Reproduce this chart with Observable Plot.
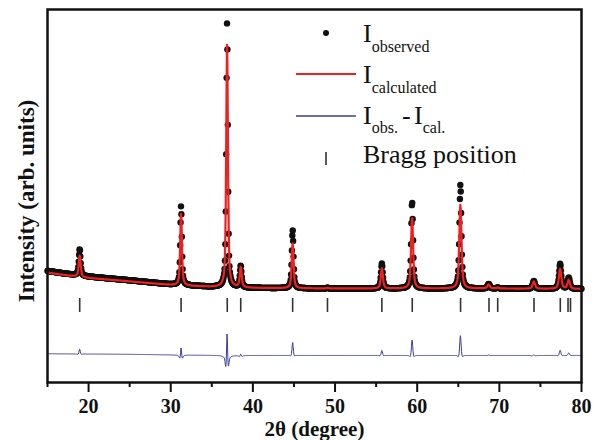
<!DOCTYPE html>
<html><head><meta charset="utf-8">
<script src="https://cdn.jsdelivr.net/npm/d3@7"></script>
<script src="https://cdn.jsdelivr.net/npm/@observablehq/plot@0.6"></script>
<style>body{margin:0;background:#fff}#chart{position:relative;width:599px;height:440px}
.legend text{font-family:'Liberation Serif','Times New Roman',serif;font-weight:normal;text-anchor:start;fill:#111}</style>
</head><body><div id="chart"></div>
<script>
// Bragg reflection positions (2θ, degree)
const braggPositions = [18.92, 31.26, 36.88, 38.52, 44.84, 49.08, 55.70, 59.40, 65.28, 68.74, 69.80, 74.22, 77.42, 78.36, 78.66];
// Fitted peaks: position, calculated net height, observed net height, FWHM (degree)
const peakPositions = [18.92, 31.26, 36.86, 38.52, 44.84, 49.08, 55.70, 59.38, 65.26, 68.70, 69.80, 74.20, 77.40, 78.45];
const calcHeights   = [760, 2530, 8560, 710, 1580, 25, 705, 2500, 2950, 140, 30, 250, 700, 300];
const obsHeights    = [935, 2780, 9330, 760, 2040, 25, 880, 3060, 3650, 160, 30, 270, 880, 390];
const peakWidths    = [0.28, 0.25, 0.25, 0.28, 0.27, 0.30, 0.30, 0.30, 0.32, 0.35, 0.35, 0.35, 0.35, 0.35];
// Background points (2θ, counts)
const bgAngles        = [15, 17, 20, 25, 30, 35, 40, 50, 60, 70, 80];
const calcBackground  = [1160, 1075, 970, 850, 725, 655, 620, 600, 600, 600, 585];
const obsBackground   = [1220, 1130, 1020, 890, 745, 660, 620, 600, 600, 600, 585];
// Axis ticks
const majorTicks = [20, 30, 40, 50, 60, 70, 80];
const minorTicks = [15, 25, 35, 45, 55, 65, 75];
const scanStart = 15, scanEnd = 80, scanStep = 0.05;
const diffOffset = -1750;
const braggTop = 250, braggBottom = -240;

const bgCalc = d3.scaleLinear(bgAngles, calcBackground);
const bgObs = d3.scaleLinear(bgAngles, obsBackground);
const eta = 0.6;
function pv(dx, w) {
  const t = (dx / w) ** 2;
  return eta / (1 + 4 * t) + (1 - eta) * Math.exp(-4 * Math.LN2 * t);
}
const angles = d3.range(0, Math.round((scanEnd - scanStart) / scanStep) + 1).map(i => scanStart + i * scanStep);
const rows = angles.map(a => {
  let c = bgCalc(a), o = bgObs(a);
  peakPositions.forEach((p, i) => {
    c += calcHeights[i] * pv(a - p, peakWidths[i]);
    o += obsHeights[i] * pv(a - p, peakWidths[i] * 0.88);
  });
  return {a, calc: c, obs: o, diff: o - c + diffOffset};
});

const chart = Plot.plot({
  width: 599, height: 440,
  marginLeft: 47, marginRight: 18, marginTop: 9, marginBottom: 58,
  style: {fontFamily: "'Liberation Serif','Times New Roman',serif", background: "#fff", color: "#111"},
  x: {domain: [15, 80]},
  y: {domain: [-2700, 10400], axis: null},
  marks: [
    Plot.dot(rows, {x: "a", y: "obs", r: 3.2, fill: "#111", stroke: "none"}),
    Plot.line(rows, {x: "a", y: "calc", stroke: "#ee2020", strokeWidth: 2.2}),
    Plot.line(rows, {x: "a", y: "diff", stroke: "#3c3c9c", strokeWidth: 1}),
    Plot.ruleX(braggPositions, {x: d => d, y1: braggTop, y2: braggBottom, stroke: "#333", strokeWidth: 1.6}),
    Plot.axisX(majorTicks, {tickSize: 10, tickPadding: 6, strokeWidth: 2, fontSize: 20, fontWeight: "bold", label: null}),
    Plot.axisX(minorTicks, {tickSize: 5, strokeWidth: 2, tickFormat: () => "", label: null}),
    Plot.frame({stroke: "#111", strokeWidth: 2.5}),
    Plot.text(["2θ (degree)"], {frameAnchor: "bottom", dy: 47, lineAnchor: "middle", fontSize: 21, fontWeight: "bold", fill: "#111"}),
    Plot.text(["Intensity (arb. units)"], {frameAnchor: "left", dx: -21, dy: 5, rotate: -90, lineAnchor: "middle", textAnchor: "middle", fontSize: 23, fontWeight: "bold", fill: "#111"})
  ]
});
document.getElementById("chart").appendChild(chart);

// Legend
const svg = d3.select(chart);
const lg = svg.append("g").attr("class", "legend");
lg.append("circle").attr("cx", 326).attr("cy", 33).attr("r", 3).attr("fill", "#111");
lg.append("line").attr("x1", 296).attr("x2", 356).attr("y1", 74).attr("y2", 74).attr("stroke", "#ee2020").attr("stroke-width", 2.2);
lg.append("line").attr("x1", 296).attr("x2", 356).attr("y1", 116).attr("y2", 116).attr("stroke", "#3c3c9c").attr("stroke-width", 1.3);
lg.append("line").attr("x1", 326).attr("x2", 326).attr("y1", 152).attr("y2", 165).attr("stroke", "#333").attr("stroke-width", 1.6);
const t1 = lg.append("text").attr("x", 363).attr("y", 42).style("font-size", "26px").text("I");
t1.append("tspan").attr("dy", 10).style("font-size", "16px").text("observed");
const t2 = lg.append("text").attr("x", 363).attr("y", 83).style("font-size", "26px").text("I");
t2.append("tspan").attr("dy", 10).style("font-size", "16px").text("calculated");
const t3 = lg.append("text").attr("x", 363).attr("y", 124).style("font-size", "26px").text("I");
t3.append("tspan").attr("dy", 9).style("font-size", "16px").text("obs.");
t3.append("tspan").attr("x", 402).attr("dy", -9).style("font-size", "26px").text("-");
t3.append("tspan").attr("x", 414).style("font-size", "26px").text("I");
t3.append("tspan").attr("dy", 9).style("font-size", "16px").text("cal.");
lg.append("text").attr("x", 363).attr("y", 163).style("font-size", "26px").text("Bragg position");
</script></body></html>
